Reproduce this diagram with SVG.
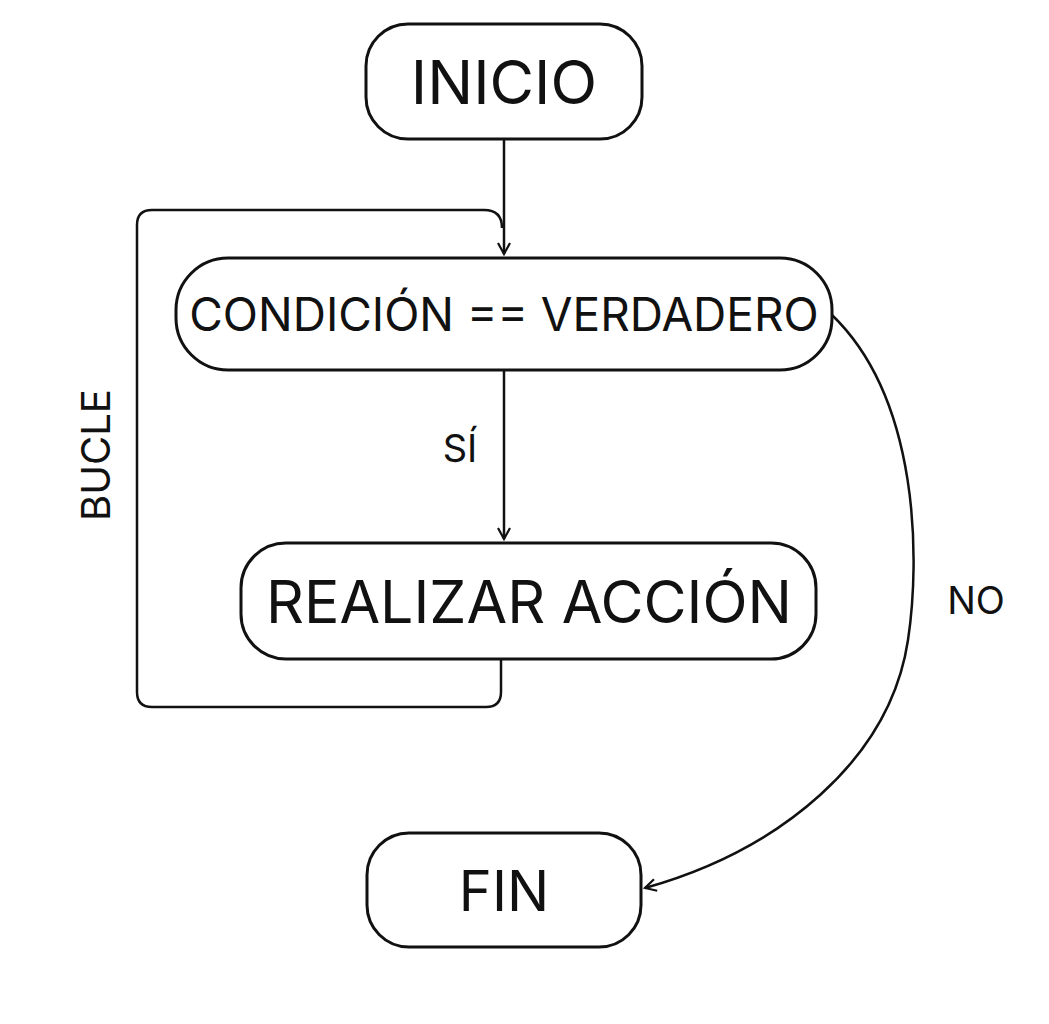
<svg xmlns="http://www.w3.org/2000/svg" width="1049" height="1024" viewBox="0 0 1049 1024">
<style>
.n{fill:#fff;stroke:#111;stroke-width:3}
.t{font-family:Inter,"Liberation Sans",sans-serif;fill:#111;text-anchor:middle;dominant-baseline:central}
.c{fill:none;stroke:#111;stroke-width:2.5}
</style>
<defs><marker id="a" markerWidth="14" markerHeight="14" refX="12" refY="7" orient="auto" markerUnits="userSpaceOnUse"><path d="M1,1 L12,7 L1,13" fill="none" stroke="#111" stroke-width="2.2"/></marker></defs>
<rect width="1049" height="1024" fill="#fff"/>
<g id="connectors">
<path class="c" d="M504,139 V254" marker-end="url(#a)"/>
<path class="c" d="M501,659 V692 Q501,707 486,707 H152 Q137,707 137,692 V225 Q137,210 152,210 H484 Q502,210 502,228"/>
<path class="c" d="M504,370 V539" marker-end="url(#a)"/>
<path class="c" d="M832,315 C920,400 920,560 908,640 C890,760 780,850 645,888" marker-end="url(#a)"/>
<text class="t" x="460" y="448" font-size="38">SÍ</text>
<text class="t" x="976" y="600" font-size="38">NO</text>
<text class="t" x="0" y="0" font-size="40" transform="translate(95,455) rotate(-90)">BUCLE</text>
</g>
<g id="inicio"><rect class="n" x="366" y="24" width="276" height="115" rx="42"/><text class="t" x="504" y="82" font-size="61">INICIO</text></g>
<g id="condicion"><rect class="n" x="176" y="258" width="656" height="112" rx="52"/><text class="t" x="504" y="314" font-size="46">CONDICIÓN == VERDADERO</text></g>
<g id="accion"><rect class="n" x="241" y="543" width="575" height="116" rx="45"/><text class="t" x="529" y="601" font-size="59">REALIZAR ACCIÓN</text></g>
<g id="fin"><rect class="n" x="367" y="833" width="274" height="114" rx="42"/><text class="t" x="504" y="891" font-size="56">FIN</text></g>
</svg>
